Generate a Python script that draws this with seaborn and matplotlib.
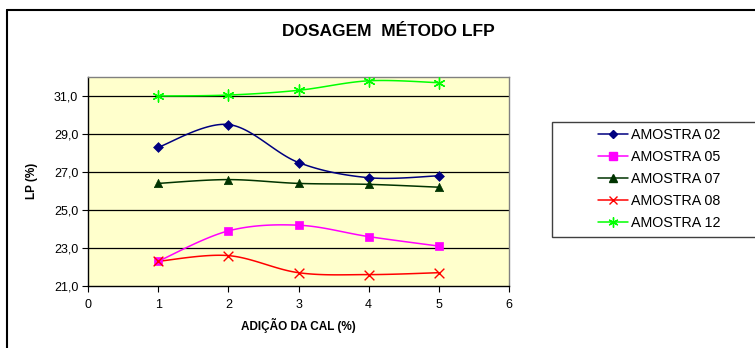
import numpy as np
import pandas as pd
import matplotlib
matplotlib.use("Agg")
import matplotlib.pyplot as plt
import seaborn as sns
from matplotlib.lines import Line2D
from matplotlib.patches import Rectangle
from matplotlib.ticker import FuncFormatter

# ---- data ----
x_vals = [1, 2, 3, 4, 5]
amostra_02 = [28.3, 29.5, 27.5, 26.7, 26.8]
amostra_05 = [22.3, 23.9, 24.2, 23.6, 23.1]
amostra_07 = [26.4, 26.6, 26.4, 26.35, 26.2]
amostra_08 = [22.3, 22.6, 21.7, 21.6, 21.7]
amostra_12 = [31.0, 31.05, 31.3, 31.8, 31.7]
series_names = ["AMOSTRA 02", "AMOSTRA 05", "AMOSTRA 07", "AMOSTRA 08", "AMOSTRA 12"]
series_vals = [amostra_02, amostra_05, amostra_07, amostra_08, amostra_12]
title = "DOSAGEM  MÉTODO LFP"
xlabel = "ADIÇÃO DA CAL (%)"
ylabel = "LP (%)"

colors = ["#000080", "#FF00FF", "#003300", "#FF0000", "#00FF00"]
markers = ["D", "s", "^", "x", (6, 2, 0)]
msizes = [5, 6, 6, 7, 8]

sns.set_theme(style="white")
plt.rcParams["font.family"] = ["Liberation Sans", "DejaVu Sans"]
plt.rcParams["text.color"] = "black"
plt.rcParams["xtick.color"] = "black"
plt.rcParams["ytick.color"] = "black"
plt.rcParams["axes.labelcolor"] = "black"

fig = plt.figure(figsize=(7.55, 3.48), dpi=100)
W, H = 755, 348
ax = fig.add_axes([88 / W, (H - 286) / H, (509 - 88) / W, (286 - 77) / H])
ax.set_facecolor("#FFFFCC")


def smooth(xs, ys, n=30):
    # Catmull-Rom style smoothing (like spreadsheet "smoothed line")
    xs = np.asarray(xs, float)
    ys = np.asarray(ys, float)
    P = np.column_stack([xs, ys])
    P = np.vstack([P[0], P, P[-1]])
    out = []
    for i in range(1, len(P) - 2):
        p0, p1, p2, p3 = P[i - 1], P[i], P[i + 1], P[i + 2]
        c1 = p1 + (p2 - p0) / 6
        c2 = p2 - (p3 - p1) / 6
        t = np.linspace(0, 1, n)[:, None]
        seg = (1 - t) ** 3 * p1 + 3 * (1 - t) ** 2 * t * c1 + 3 * (1 - t) * t ** 2 * c2 + t ** 3 * p2
        out.append(seg if i == 1 else seg[1:])
    s = np.vstack(out)
    return s[:, 0], s[:, 1]


for y in [23, 25, 27, 29, 31]:
    ax.axhline(y, color="black", lw=0.9, zorder=1)

handles = []
for name, vals, c, m, ms in zip(series_names, series_vals, colors, markers, msizes):
    sx, sy = smooth(x_vals, vals)
    df_s = pd.DataFrame({"x": sx, "y": sy})
    sns.lineplot(data=df_s, x="x", y="y", sort=False, color=c, lw=1.1, ax=ax, zorder=3)
    df = pd.DataFrame({"x": x_vals, "y": vals})
    if m == "x" or isinstance(m, tuple):
        sns.scatterplot(data=df, x="x", y="y", marker=m, s=ms ** 2, color=c,
                        linewidth=1.0, ax=ax, zorder=4)
    else:
        sns.scatterplot(data=df, x="x", y="y", marker=m, s=ms ** 2, color=c,
                        edgecolor=c, linewidth=0.5, ax=ax, zorder=4)
    handles.append(Line2D([], [], color=c, marker=m, markersize=ms * 0.9, lw=1.1,
                          markeredgewidth=1.0, label=name))

ax.set_xlim(0, 6)
ax.set_ylim(21, 32)
ax.set_xticks(range(0, 7))
ax.set_yticks([21, 23, 25, 27, 29, 31])
ax.yaxis.set_major_formatter(FuncFormatter(lambda v, p: f"{v:.1f}".replace(".", ",")))
ax.tick_params(axis="both", which="major", labelsize=9, length=4, width=0.8,
               direction="out", colors="black", pad=3)
ax.tick_params(axis="x", pad=5)
ax.tick_params(bottom=True, left=True)
for s in ["top", "right"]:
    ax.spines[s].set_color("#808080")
    ax.spines[s].set_linewidth(1.0)
for s in ["left", "bottom"]:
    ax.spines[s].set_color("black")
    ax.spines[s].set_linewidth(1.0)
ax.set_xlabel("")
ax.set_ylabel("")

fig.text(388 / W, 1 - 32 / H, title, ha="center", va="center", fontsize=12.5,
         fontweight="bold", color="black")
fig.text(32 / W, 1 - 181 / H, ylabel, ha="center", va="center", rotation=90,
         fontsize=8.5, fontweight="bold", color="black")
fig.text(298 / W, 1 - 325 / H, xlabel, ha="center", va="center", fontsize=8.5,
         fontweight="bold", color="black")

# outer chart frame (top and left)
fig.add_artist(Line2D([7 / W, 1], [1 - 10 / H, 1 - 10 / H], color="black", lw=1.5))
fig.add_artist(Line2D([7 / W, 7 / W], [0, 1 - 10 / H], color="black", lw=1.5))

# legend box
fig.add_artist(Rectangle((552 / W, 1 - 237 / H), (780 - 552) / W, (237 - 122) / H,
                         transform=fig.transFigure, facecolor="white",
                         edgecolor="#404040", lw=1.0, zorder=5))
leg = fig.legend(handles=handles, loc="upper left",
                 bbox_to_anchor=(587 / W, 1 - 117 / H), frameon=False,
                 fontsize=10.3, handlelength=2.1, handletextpad=0.2, labelspacing=0.55,
                 borderpad=0.3)
leg.set_zorder(6)

fig.savefig("out.png", dpi=100)
